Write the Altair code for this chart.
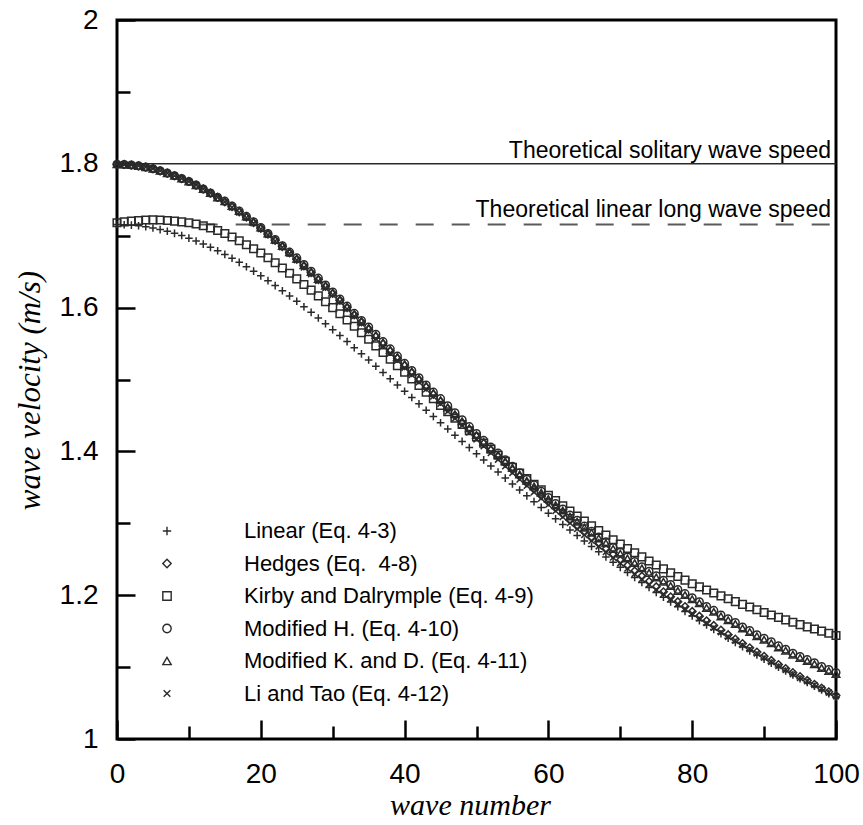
import altair as alt
import pandas as pd

# ---------------- data ----------------
wave_number = list(range(0, 101))

linear = [1.7155, 1.7153, 1.7147, 1.7138, 1.7124, 1.7107, 1.7085, 1.7061, 1.7033, 1.7002, 1.6966,
          1.6926, 1.6883, 1.6838, 1.6790, 1.6740, 1.6686, 1.6629, 1.6569, 1.6507, 1.6442,
          1.6375, 1.6306, 1.6235, 1.6163, 1.6088, 1.6012, 1.5934, 1.5855, 1.5775, 1.5693,
          1.5611, 1.5527, 1.5442, 1.5357, 1.5271, 1.5185, 1.5098, 1.5011, 1.4924, 1.4837,
          1.4749, 1.4661, 1.4573, 1.4486, 1.4399, 1.4312, 1.4225, 1.4139, 1.4053, 1.3967,
          1.3882, 1.3797, 1.3713, 1.3629, 1.3546, 1.3464, 1.3382, 1.3301, 1.3221, 1.3141,
          1.3062, 1.2984, 1.2907, 1.2830, 1.2754, 1.2679, 1.2605, 1.2532, 1.2459, 1.2387,
          1.2316, 1.2246, 1.2177, 1.2108, 1.2039, 1.1972, 1.1906, 1.1840, 1.1775, 1.1710,
          1.1647, 1.1585, 1.1524, 1.1463, 1.1402, 1.1343, 1.1284, 1.1226, 1.1168, 1.1111,
          1.1055, 1.1000, 1.0946, 1.0892, 1.0838, 1.0785, 1.0733, 1.0682, 1.0631, 1.0580]

hedges = [1.7993, 1.7991, 1.7983, 1.7971, 1.7954, 1.7932, 1.7903, 1.7870, 1.7834, 1.7795, 1.7754,
          1.7704, 1.7650, 1.7593, 1.7533, 1.7471, 1.7404, 1.7333, 1.7259, 1.7183, 1.7103,
          1.7021, 1.6936, 1.6849, 1.6761, 1.6671, 1.6579, 1.6485, 1.6390, 1.6294, 1.6197,
          1.6099, 1.6000, 1.5900, 1.5800, 1.5699, 1.5598, 1.5497, 1.5396, 1.5295, 1.5194,
          1.5094, 1.4994, 1.4894, 1.4794, 1.4694, 1.4595, 1.4497, 1.4400, 1.4304, 1.4208,
          1.4113, 1.4019, 1.3926, 1.3834, 1.3742, 1.3651, 1.3562, 1.3474, 1.3386, 1.3299,
          1.3213, 1.3128, 1.3044, 1.2962, 1.2880, 1.2799, 1.2720, 1.2642, 1.2564, 1.2487,
          1.2411, 1.2337, 1.2264, 1.2191, 1.2118, 1.2047, 1.1978, 1.1910, 1.1842, 1.1774,
          1.1708, 1.1643, 1.1579, 1.1515, 1.1451, 1.1389, 1.1328, 1.1268, 1.1209, 1.1150,
          1.1092, 1.1035, 1.0979, 1.0923, 1.0868, 1.0814, 1.0761, 1.0708, 1.0656, 1.0604]

kirby_dalrymple = [1.7180, 1.7192, 1.7203, 1.7212, 1.7218, 1.7220, 1.7218, 1.7212, 1.7203, 1.7192, 1.7180,
                   1.7162, 1.7138, 1.7108, 1.7072, 1.7030, 1.6982, 1.6930, 1.6875, 1.6819, 1.6760,
                   1.6693, 1.6623, 1.6551, 1.6477, 1.6400, 1.6322, 1.6243, 1.6163, 1.6082, 1.6000,
                   1.5915, 1.5828, 1.5740, 1.5651, 1.5560, 1.5468, 1.5376, 1.5284, 1.5192, 1.5100,
                   1.5008, 1.4916, 1.4824, 1.4732, 1.4640, 1.4551, 1.4463, 1.4375, 1.4287, 1.4200,
                   1.4115, 1.4031, 1.3947, 1.3863, 1.3780, 1.3700, 1.3622, 1.3544, 1.3467, 1.3390,
                   1.3316, 1.3243, 1.3171, 1.3100, 1.3030, 1.2964, 1.2899, 1.2835, 1.2772, 1.2710,
                   1.2650, 1.2591, 1.2533, 1.2476, 1.2420, 1.2366, 1.2313, 1.2261, 1.2210, 1.2160,
                   1.2116, 1.2073, 1.2031, 1.1990, 1.1950, 1.1911, 1.1873, 1.1835, 1.1797, 1.1760,
                   1.1725, 1.1691, 1.1657, 1.1623, 1.1590, 1.1560, 1.1530, 1.1500, 1.1470, 1.1440]

modified_h = [1.7993, 1.7991, 1.7983, 1.7971, 1.7954, 1.7932, 1.7903, 1.7870, 1.7834, 1.7795, 1.7754,
              1.7704, 1.7650, 1.7593, 1.7533, 1.7481, 1.7414, 1.7343, 1.7269, 1.7193, 1.7113,
              1.7031, 1.6946, 1.6859, 1.6771, 1.6691, 1.6599, 1.6505, 1.6410, 1.6314, 1.6217,
              1.6119, 1.6020, 1.5920, 1.5820, 1.5729, 1.5628, 1.5527, 1.5426, 1.5325, 1.5224,
              1.5124, 1.5024, 1.4924, 1.4824, 1.4734, 1.4635, 1.4537, 1.4440, 1.4344, 1.4248,
              1.4153, 1.4059, 1.3976, 1.3884, 1.3792, 1.3701, 1.3612, 1.3534, 1.3446, 1.3359,
              1.3273, 1.3198, 1.3114, 1.3042, 1.2960, 1.2889, 1.2810, 1.2742, 1.2664, 1.2597,
              1.2531, 1.2467, 1.2394, 1.2331, 1.2268, 1.2207, 1.2148, 1.2080, 1.2022, 1.1964,
              1.1908, 1.1843, 1.1789, 1.1725, 1.1671, 1.1619, 1.1558, 1.1508, 1.1449, 1.1400,
              1.1352, 1.1295, 1.1249, 1.1193, 1.1148, 1.1104, 1.1061, 1.1008, 1.0966, 1.0924]

modified_kd = [1.7993, 1.7991, 1.7983, 1.7971, 1.7954, 1.7932, 1.7903, 1.7870, 1.7834, 1.7795, 1.7754,
               1.7704, 1.7650, 1.7593, 1.7533, 1.7481, 1.7414, 1.7343, 1.7269, 1.7193, 1.7113,
               1.7031, 1.6946, 1.6859, 1.6771, 1.6681, 1.6589, 1.6495, 1.6400, 1.6304, 1.6207,
               1.6109, 1.6010, 1.5910, 1.5810, 1.5719, 1.5618, 1.5517, 1.5416, 1.5315, 1.5214,
               1.5114, 1.5014, 1.4914, 1.4814, 1.4714, 1.4615, 1.4517, 1.4420, 1.4324, 1.4228,
               1.4133, 1.4039, 1.3956, 1.3864, 1.3772, 1.3681, 1.3592, 1.3514, 1.3426, 1.3339,
               1.3253, 1.3178, 1.3094, 1.3022, 1.2940, 1.2869, 1.2790, 1.2722, 1.2644, 1.2577,
               1.2511, 1.2447, 1.2374, 1.2311, 1.2248, 1.2187, 1.2128, 1.2060, 1.2002, 1.1944,
               1.1888, 1.1823, 1.1769, 1.1705, 1.1651, 1.1599, 1.1538, 1.1488, 1.1429, 1.1380,
               1.1332, 1.1275, 1.1229, 1.1173, 1.1128, 1.1084, 1.1041, 1.0988, 1.0946, 1.0904]

li_tao = [1.7993, 1.7991, 1.7983, 1.7971, 1.7954, 1.7932, 1.7903, 1.7870, 1.7834, 1.7795, 1.7754,
          1.7704, 1.7650, 1.7593, 1.7533, 1.7471, 1.7394, 1.7323, 1.7249, 1.7173, 1.7093,
          1.7011, 1.6926, 1.6839, 1.6751, 1.6661, 1.6559, 1.6465, 1.6370, 1.6274, 1.6177,
          1.6079, 1.5980, 1.5880, 1.5780, 1.5679, 1.5568, 1.5467, 1.5366, 1.5265, 1.5164,
          1.5064, 1.4964, 1.4864, 1.4764, 1.4664, 1.4555, 1.4457, 1.4360, 1.4264, 1.4168,
          1.4073, 1.3979, 1.3886, 1.3794, 1.3702, 1.3611, 1.3522, 1.3434, 1.3346, 1.3259,
          1.3173, 1.3088, 1.3004, 1.2922, 1.2840, 1.2759, 1.2680, 1.2602, 1.2524, 1.2447,
          1.2371, 1.2297, 1.2224, 1.2151, 1.2078, 1.2017, 1.1948, 1.1880, 1.1812, 1.1744,
          1.1678, 1.1613, 1.1549, 1.1485, 1.1421, 1.1369, 1.1308, 1.1248, 1.1189, 1.1130,
          1.1072, 1.1015, 1.0959, 1.0903, 1.0848, 1.0804, 1.0751, 1.0698, 1.0646, 1.0594]

series_names = ["Linear (Eq. 4-3)", "Hedges (Eq.\u00a0 4-8)", "Kirby and Dalrymple (Eq. 4-9)",
                "Modified H. (Eq. 4-10)", "Modified K. and D. (Eq. 4-11)", "Li and Tao (Eq. 4-12)"]
series_values = [linear, hedges, kirby_dalrymple, modified_h, modified_kd, li_tao]

x_domain = [0, 100]
y_domain = [1, 2]
x_major_ticks = [0, 20, 40, 60, 80, 100]
x_minor_ticks = [10, 30, 50, 70, 90]
y_major_ticks = [1.0, 1.2, 1.4, 1.6, 1.8, 2.0]
y_minor_ticks = [1.1, 1.3, 1.5, 1.7, 1.9]

solitary_speed = 1.8
linear_long_wave_speed = 1.7155
solitary_label = "Theoretical solitary wave speed"
linear_label = "Theoretical linear long wave speed"
solitary_span = [0, 100]
linear_span = [11.5, 100]

# ---------------- styling ----------------
marker_shapes = ["M-1,0H1M0,-1V1", "diamond", "square", "circle", "triangle-up",
                 "M-0.8,-0.8L0.8,0.8M-0.8,0.8L0.8,-0.8"]
INK = "#2a2a2a"
SANS = "Liberation Sans"
SERIF = "Liberation Serif"

rows = []
for name, vals in zip(series_names, series_values):
    for xv, yv in zip(wave_number, vals):
        rows.append({"wave": xv, "v": yv, "series": name})
df = pd.DataFrame(rows)

xscale = alt.Scale(domain=x_domain, nice=False, zero=False)
yscale = alt.Scale(domain=y_domain, nice=False, zero=False)

x_major_axis = alt.Axis(orient="bottom", values=x_major_ticks, tickSize=19, offset=-19, domain=False,
                        grid=False, tickColor="black", tickWidth=2.5, labelFont=SANS, labelFontSize=28,
                        labelColor="black", labelPadding=21, labelFlush=False, labelOverlap=False,
                        title="wave number", titleFont=SERIF, titleFontStyle="italic",
                        titleFontWeight="normal", titleFontSize=30, titleColor="black",
                        titleBaseline="alphabetic", titleX=353, titleY=94)
y_major_axis = alt.Axis(orient="left", values=y_major_ticks, tickSize=18, offset=-18, domain=False,
                        grid=False, tickColor="black", tickWidth=2.5, labelFont=SANS, labelFontSize=28,
                        labelColor="black", labelPadding=19, labelFlush=False, labelOverlap=False,
                        format="~g",
                        title="wave velocity (m/s)", titleFont=SERIF, titleFontStyle="italic",
                        titleFontWeight="normal", titleFontSize=31, titleColor="black",
                        titleBaseline="alphabetic", titleAngle=270, titleX=-96, titleY=370)
x_minor_axis = alt.Axis(orient="bottom", values=x_minor_ticks, tickSize=13, offset=-13, domain=False,
                        grid=False, tickColor="black", tickWidth=2.5, labels=False, title=None)
y_minor_axis = alt.Axis(orient="left", values=y_minor_ticks, tickSize=13, offset=-13, domain=False,
                        grid=False, tickColor="black", tickWidth=2.5, labels=False, title=None)

legend = alt.Legend(orient="none", legendX=39, legendY=500, title=None, direction="vertical",
                    labelFont=SANS, labelFontSize=22, labelColor="black", labelLimit=600,
                    labelOffset=66, rowPadding=10.5, padding=0, symbolSize=70,
                    symbolStrokeWidth=1.4, symbolStrokeColor=INK, symbolFillColor="transparent")

points = alt.Chart(df).mark_point(filled=False, size=58, strokeWidth=1.5, color=INK, opacity=1).encode(
    x=alt.X("wave:Q", scale=xscale, axis=x_major_axis),
    y=alt.Y("v:Q", scale=yscale, axis=y_major_axis),
    shape=alt.Shape("series:N", scale=alt.Scale(domain=series_names, range=marker_shapes),
                    sort=series_names, legend=legend),
)

minor = alt.Chart(df).mark_point(opacity=0, size=1).encode(
    x=alt.X("wave:Q", axis=x_minor_axis),
    y=alt.Y("v:Q", axis=y_minor_axis),
)

frame_df = pd.DataFrame({"x0": [x_domain[0]], "x1": [x_domain[1]], "y0": [y_domain[0]], "y1": [y_domain[1]]})
frame = alt.Chart(frame_df).mark_rect(fill=None, stroke="black", strokeWidth=3).encode(
    x=alt.X("x0:Q", axis=None), x2="x1:Q", y=alt.Y("y0:Q", axis=None), y2="y1:Q")

sol_df = pd.DataFrame({"x0": [solitary_span[0]], "x1": [solitary_span[1]], "y": [solitary_speed],
                       "label": [solitary_label]})
lin_df = pd.DataFrame({"x0": [linear_span[0]], "x1": [linear_span[1]], "y": [linear_long_wave_speed],
                       "label": [linear_label]})

sol_rule = alt.Chart(sol_df).mark_rule(color=INK, strokeWidth=1.5).encode(
    x=alt.X("x0:Q", axis=None), x2="x1:Q", y=alt.Y("y:Q", axis=None))
lin_rule = alt.Chart(lin_df).mark_rule(color="#5a5a5a", strokeWidth=2, strokeDash=[18, 18]).encode(
    x=alt.X("x0:Q", axis=None), x2="x1:Q", y=alt.Y("y:Q", axis=None))

sol_text = alt.Chart(sol_df).mark_text(align="right", baseline="alphabetic", dx=-5, dy=-6,
                                       font=SANS, fontSize=23, color="black").encode(
    x=alt.X("x1:Q", axis=None), y=alt.Y("y:Q", axis=None), text="label:N")
lin_text = alt.Chart(lin_df).mark_text(align="right", baseline="alphabetic", dx=-5, dy=-8,
                                       font=SANS, fontSize=23, color="black").encode(
    x=alt.X("x1:Q", axis=None), y=alt.Y("y:Q", axis=None), text="label:N")

chart = alt.layer(frame, sol_rule, lin_rule, points, minor, sol_text, lin_text).resolve_axis(
    x="independent", y="independent"
).properties(
    width=719, height=719,
    autosize=alt.AutoSizeParams(type="none"),
    padding={"left": 117, "top": 20, "right": 27, "bottom": 86},
    background="white",
).configure_view(stroke=None)

chart.save("out.html", embed_options={"renderer": "svg", "actions": False})
